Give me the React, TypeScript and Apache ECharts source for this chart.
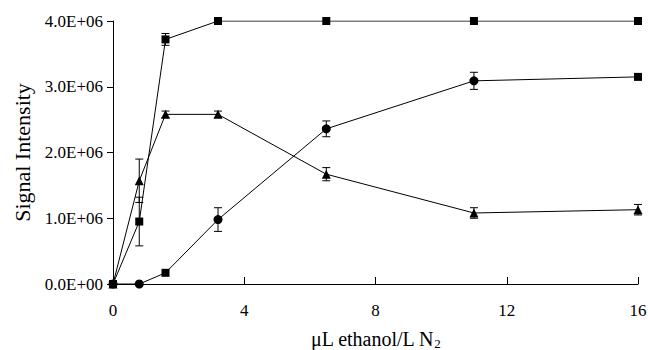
import React, { useEffect, useRef } from "react";
import * as echarts from "echarts";

const xValues = [0, 0.8, 1.6, 3.2, 6.5, 11, 16];
const squareValues = [0, 0.95e6, 3.72e6, 4.0e6, 4.0e6, 4.0e6, 4.0e6];
const squareErrors = [0, 0.37e6, 0.09e6, 0, 0, 0, 0];
const triangleValues = [0, 1.57e6, 2.58e6, 2.58e6, 1.67e6, 1.08e6, 1.13e6];
const triangleErrors = [0, 0.33e6, 0.05e6, 0.05e6, 0.1e6, 0.08e6, 0.08e6];
const circleValues = [0, 0, 0.17e6, 0.98e6, 2.36e6, 3.09e6, 3.15e6];
const circleErrors = [0, 0, 0, 0.18e6, 0.12e6, 0.13e6, 0.02e6];
const circleSquareMarkerIdx = [2, 6];

const xTicks = { min: 0, max: 16, interval: 4 };
const yTicks = { min: 0, max: 4e6, interval: 1e6 };

const FONT = "'Liberation Serif', 'Times New Roman', serif";

function lineSeries(name: string, vals: number[], symbol: string, size: number, overrides: number[] = []) {
  return {
    name,
    type: "line",
    data: xValues.map((x, i) =>
      overrides.includes(i)
        ? { value: [x, vals[i]], symbol: "rect", symbolSize: 8 }
        : [x, vals[i]]
    ),
    symbol,
    symbolSize: size,
    showSymbol: true,
    lineStyle: { color: "#000", width: 1 },
    itemStyle: { color: "#000" },
    z: 3,
  };
}

function errorSeries(vals: number[], errs: number[]) {
  return {
    type: "custom",
    data: xValues.map((x, i) => [x, vals[i], errs[i]]).filter((d) => d[2] > 0),
    encode: { x: 0, y: 1 },
    z: 2,
    renderItem: (params: any, api: any) => {
      const x = api.value(0);
      const y = api.value(1);
      const e = api.value(2);
      const top = api.coord([x, y + e]);
      const bot = api.coord([x, y - e]);
      const hw = 4;
      const style = { stroke: "#000", lineWidth: 1 };
      return {
        type: "group",
        children: [
          { type: "line", shape: { x1: top[0], y1: top[1], x2: bot[0], y2: bot[1] }, style },
          { type: "line", shape: { x1: top[0] - hw, y1: top[1], x2: top[0] + hw, y2: top[1] }, style },
          { type: "line", shape: { x1: bot[0] - hw, y1: bot[1], x2: bot[0] + hw, y2: bot[1] }, style },
        ],
      };
    },
  };
}

export default function App() {
  const ref = useRef<HTMLDivElement>(null);
  useEffect(() => {
    document.body.style.margin = "0";
    const chart = echarts.init(ref.current!, null, { renderer: "svg" });
    chart.setOption({
      animation: false,
      backgroundColor: "#fff",
      textStyle: { fontFamily: FONT },
      grid: { left: 113, right: 10, top: 21, bottom: 66, outerBoundsMode: "none", containLabel: false },
      xAxis: {
        type: "value",
        min: xTicks.min,
        max: xTicks.max,
        interval: xTicks.interval,
        splitLine: { show: false },
        axisLine: { lineStyle: { color: "#000", width: 1 } },
        axisTick: { inside: true, length: 7, lineStyle: { color: "#000" } },
        axisLabel: { color: "#000", fontSize: 17, fontFamily: FONT, margin: 18 },
        name: "μL ethanol/L N{sub|2}",
        nameLocation: "middle",
        nameGap: 43,
        nameTextStyle: {
          color: "#000",
          fontSize: 20,
          fontFamily: FONT,
          rich: {
            sub: { fontSize: 13, fontFamily: FONT, color: "#000", padding: [10, 0, 0, 0] },
          },
        },
      },
      yAxis: {
        type: "value",
        min: yTicks.min,
        max: yTicks.max,
        interval: yTicks.interval,
        splitLine: { show: false },
        axisLine: { show: true, lineStyle: { color: "#000", width: 1 } },
        axisTick: { show: true, inside: false, length: 6, lineStyle: { color: "#000" } },
        axisLabel: {
          color: "#000",
          fontSize: 17,
          fontFamily: FONT,
          margin: 10,
          formatter: (v: number) => (v / 1e6).toFixed(1) + (v === 0 ? "E+00" : "E+06"),
        },
        name: "Signal Intensity",
        nameLocation: "middle",
        nameGap: 80,
        nameTextStyle: { color: "#000", fontSize: 22, fontFamily: FONT },
      },
      series: [
        errorSeries(squareValues, squareErrors),
        errorSeries(triangleValues, triangleErrors),
        errorSeries(circleValues, circleErrors),
        lineSeries("square", squareValues, "rect", 8),
        lineSeries("triangle", triangleValues, "triangle", 9),
        lineSeries("circle", circleValues, "circle", 9, circleSquareMarkerIdx),
      ],
    });
    return () => chart.dispose();
  }, []);
  return <div ref={ref} style={{ width: 648, height: 350 }} />;
}
